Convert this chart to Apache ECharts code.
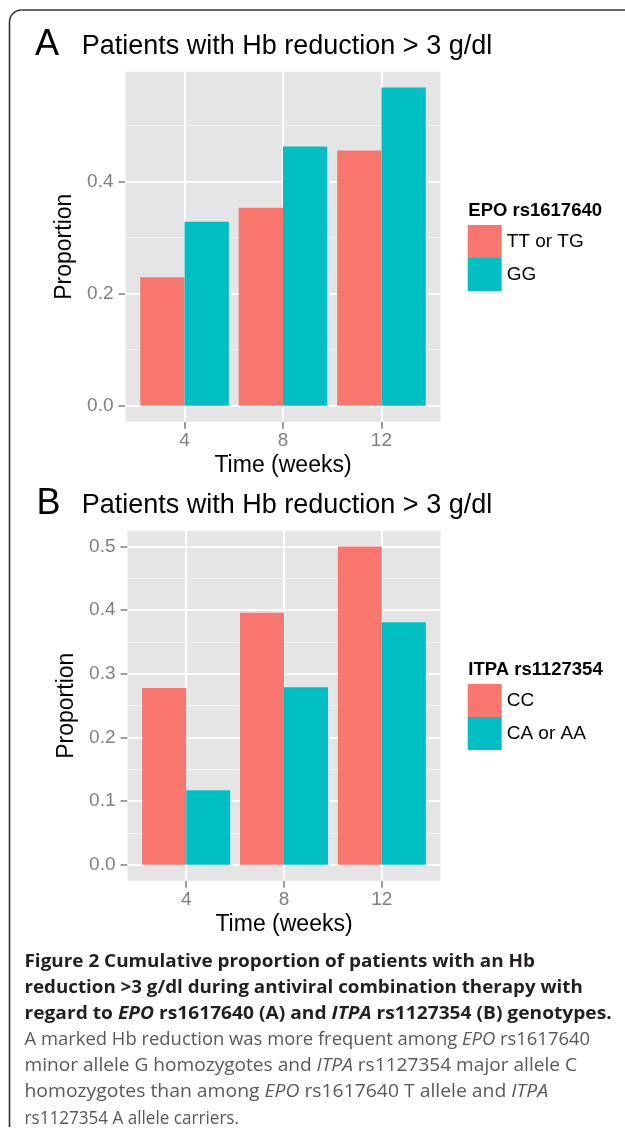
<!DOCTYPE html>
<html><head><meta charset="utf-8">
<script src="https://cdn.jsdelivr.net/npm/echarts@6/dist/echarts.min.js"></script>
<style>html,body{margin:0;padding:0;background:#fff}#c{width:625px;height:1137px}</style>
</head><body><div id="c"></div>
<script>
// ---------- data ----------
const weeks = ['4', '8', '12'];
const epoTTorTG = [0.229, 0.353, 0.455];
const epoGG = [0.328, 0.462, 0.567];
const itpaCC = [0.278, 0.396, 0.500];
const itpaCAorAA = [0.117, 0.279, 0.381];
const yTicksA = [0, 0.2, 0.4];
const yMinorA = [0.1, 0.3, 0.5];
const yTicksB = [0, 0.1, 0.2, 0.3, 0.4, 0.5];
const yMinorB = [0.05, 0.15, 0.25, 0.35, 0.45];
const seriesNamesA = ['TT or TG', 'GG'];
const seriesNamesB = ['CC', 'CA or AA'];

// ---------- style ----------
const FONT = '"Liberation Sans", Arial, Helvetica, sans-serif';
const RED = '#F8766D', TEAL = '#00BFC4';
const TICKCOL = '#7F7F7F';

const xPos = weeks.map((w, i) => i + 1);
const xExt = [1 - 0.6, weeks.length + 0.6];
function yExtent(arrs) {
  const m = Math.max(...arrs.flat());
  return [-0.05 * m, m * 1.05];
}
const yExtA = yExtent([epoTTorTG, epoGG]);
const yExtB = yExtent([itpaCC, itpaCAorAA]);

const grids = [
  { left: 125.5, top: 71.7, width: 315, height: 350 },
  { left: 127.5, top: 530.7, width: 313, height: 350 }
];

function xAxis(gi) {
  return {
    gridIndex: gi, type: 'value', min: xExt[0], max: xExt[1],
    axisLine: { show: false, onZero: false },
    axisTick: { show: true, customValues: xPos, length: 7, lineStyle: { color: TICKCOL, width: 1.5 } },
    axisLabel: { customValues: xPos, formatter: v => weeks[Math.round(v) - 1], color: TICKCOL, fontSize: 19, fontFamily: FONT, margin: 10 },
    splitLine: { show: false },
    name: 'Time (weeks)', nameLocation: 'middle', nameGap: 32,
    nameTextStyle: { fontSize: 23, color: '#000', fontFamily: FONT }
  };
}
function yAxis(gi, ext, ticks) {
  return {
    gridIndex: gi, type: 'value', min: ext[0], max: ext[1],
    axisLine: { show: false, onZero: false },
    axisTick: { show: true, customValues: ticks, length: 7, lineStyle: { color: TICKCOL, width: 1.5 } },
    axisLabel: { customValues: ticks, formatter: v => v.toFixed(1), color: TICKCOL, fontSize: 19, fontFamily: FONT, margin: 12 },
    splitLine: { show: false },
    name: 'Proportion', nameLocation: 'middle', nameGap: 44, nameRotate: 90,
    nameTextStyle: { fontSize: 23, color: '#000', fontFamily: FONT }
  };
}
function gridLines(gi, majors, minors) {
  const data = [];
  minors.forEach(v => data.push({ yAxis: v, lineStyle: { color: '#F2F2F2', width: 1.2, type: 'solid' } }));
  majors.forEach(v => data.push({ yAxis: v, lineStyle: { color: '#FFFFFF', width: 2, type: 'solid' } }));
  xPos.forEach(v => data.push({ xAxis: v, lineStyle: { color: '#FFFFFF', width: 2, type: 'solid' } }));
  return {
    type: 'line', name: 'grid' + gi, xAxisIndex: gi, yAxisIndex: gi, data: [], silent: true, z: 1,
    markLine: { silent: true, symbol: ['none', 'none'], animation: false, z: 1, label: { show: false }, data: data }
  };
}
function bars(gi, name, vals, color) {
  return {
    type: 'bar', name: name, xAxisIndex: gi, yAxisIndex: gi,
    data: vals.map((v, i) => [xPos[i], v]),
    itemStyle: { color: color }, barGap: '0%', barCategoryGap: '10%', z: 2, silent: true
  };
}

// ---------- caption ----------
const capX = 24.5;
const capLines = [
  { end: 535, base: 968.3, segs: [['Figure 2 Cumulative proportion of patients with an Hb', 'b']] },
  { end: 582.7, base: 994.3, segs: [['reduction >3 g/dl during antiviral combination therapy with', 'b']] },
  { end: 611.7, base: 1020, segs: [['regard to ', 'b'], ['EPO', 'bi'], [' rs1617640 (A) and ', 'b'], ['ITPA', 'bi'], [' rs1127354 (B) genotypes.', 'b']] },
  { end: 590, base: 1046.7, segs: [['A marked Hb reduction was more frequent among ', 'r'], ['EPO', 'i'], [' rs1617640', 'r']] },
  { end: 577, base: 1072.7, segs: [['minor allele G homozygotes and ', 'r'], ['ITPA', 'i'], [' rs1127354 major allele C', 'r']] },
  { end: 548, base: 1098.7, segs: [['homozygotes than among ', 'r'], ['EPO', 'i'], [' rs1617640 T allele and ', 'r'], ['ITPA', 'i']] },
  { end: 239, base: 1125, segs: [['rs1127354 A allele carriers.', 'r']] }
];
const CAPSIZE = 18.5;
const capStyles = {
  b: { fontWeight: 'bold', fontStyle: 'normal', fill: '#231F20' },
  bi: { fontWeight: 'bold', fontStyle: 'italic', fill: '#231F20' },
  r: { fontWeight: 'normal', fontStyle: 'normal', fill: '#58595B' },
  i: { fontWeight: 'normal', fontStyle: 'italic', fill: '#58595B' }
};
const ctx = document.createElement('canvas').getContext('2d');
function segWidth(t, k) {
  const s = capStyles[k];
  ctx.font = `${s.fontStyle} ${s.fontWeight} ${CAPSIZE}px "Open Sans"`;
  return ctx.measureText(t).width;
}
const rich = {};
Object.keys(capStyles).forEach(k => {
  rich[k] = Object.assign({ fontSize: CAPSIZE, fontFamily: '"Open Sans"', color: capStyles[k].fill }, capStyles[k]);
});
const capGraphics = capLines.map(L => {
  const w = L.segs.reduce((a, [t, k]) => a + segWidth(t, k), 0);
  return {
    type: 'text', x: capX, y: L.base - 6.6, scaleX: (L.end - capX) / w, silent: true,
    style: {
      text: L.segs.map(([t, k]) => `{${k}|${t}}`).join(''), rich: rich,
      x: 0, y: 0, verticalAlign: 'middle', textVerticalAlign: 'middle', align: 'left', textAlign: 'left'
    }
  };
});

function txt(x, y, text, size, weight, color) {
  return {
    type: 'text', x: x, y: y, silent: true,
    style: { text: text, x: 0, y: 0, font: `${weight} ${size}px ${FONT}`, fill: color || '#000',
      verticalAlign: 'middle', textVerticalAlign: 'middle', align: 'left', textAlign: 'left' }
  };
}

const frameStyle = { fill: 'none', stroke: '#333', lineWidth: 1.6 };
const option = {
  animation: false,
  backgroundColor: '#fff',
  grid: grids.map(g => Object.assign({ show: true, backgroundColor: '#E5E5E5', borderWidth: 0 }, g)),
  xAxis: [xAxis(0), xAxis(1)],
  yAxis: [yAxis(0, yExtA, yTicksA), yAxis(1, yExtB, yTicksB)],
  legend: [
    { data: seriesNamesA, orient: 'vertical', left: 467.7, top: 225, itemWidth: 34, itemHeight: 33, itemGap: 0,
      icon: 'rect', padding: 0, selectedMode: false, textStyle: { fontSize: 19, color: '#000', fontFamily: FONT } },
    { data: seriesNamesB, orient: 'vertical', left: 467.7, top: 684, itemWidth: 34, itemHeight: 33, itemGap: 0,
      icon: 'rect', padding: 0, selectedMode: false, textStyle: { fontSize: 19, color: '#000', fontFamily: FONT } }
  ],
  series: [
    gridLines(0, yTicksA, yMinorA),
    gridLines(1, yTicksB, yMinorB),
    bars(0, seriesNamesA[0], epoTTorTG, RED),
    bars(0, seriesNamesA[1], epoGG, TEAL),
    bars(1, seriesNamesB[0], itpaCC, RED),
    bars(1, seriesNamesB[1], itpaCAorAA, TEAL)
  ],
  graphic: [
    { type: 'line', silent: true, shape: { x1: 9.5, y1: 1127, x2: 9.5, y2: 22 }, style: frameStyle },
    { type: 'arc', silent: true, shape: { cx: 21.5, cy: 22, r: 12, startAngle: Math.PI, endAngle: Math.PI * 1.5, clockwise: true }, style: frameStyle },
    { type: 'line', silent: true, shape: { x1: 21.5, y1: 10, x2: 630, y2: 10 }, style: frameStyle },
    txt(35, 45.5, 'A', 36, 'normal'),
    txt(81.7, 46.5, 'Patients with Hb reduction > 3 g/dl', 27, 'normal'),
    txt(36.5, 504.5, 'B', 36, 'normal'),
    txt(81.7, 506, 'Patients with Hb reduction > 3 g/dl', 27, 'normal'),
    txt(468.3, 210.8, 'EPO rs1617640', 18.5, 'bold'),
    txt(468.3, 669.5, 'ITPA rs1127354', 18.5, 'bold')
  ].concat(capGraphics)
};
const chart = echarts.init(document.getElementById('c'), null, { renderer: 'canvas' });
chart.setOption(option);
</script>
</body></html>
